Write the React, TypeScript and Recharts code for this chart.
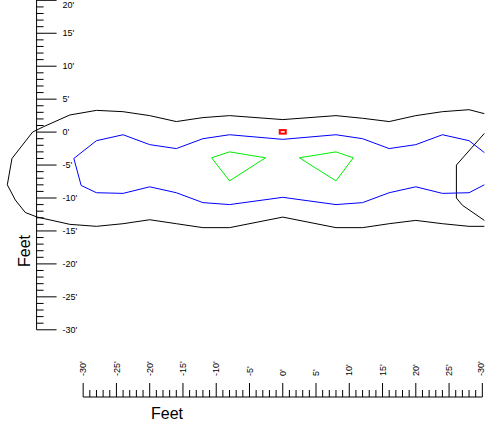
import { ComposedChart, Line, Scatter, XAxis, YAxis, ReferenceLine } from "recharts";

// contour traces, [feet across, feet up]
const OUTER_CONTOUR = [
  [30.3, 2.8], [28, 3.4], [24, 3.1], [20, 2.5], [16, 1.6], [12, 2.1], [8, 2.5], [0, 1.9],
  [-8, 2.5], [-12, 2.2], [-16, 1.6], [-20, 2.5], [-24, 3.1], [-28, 3.3], [-32, 2.6], [-36, 0.8],
  [-37.6, 0.0], [-40.7, -4.0], [-41.4, -8.0], [-40.2, -10.3], [-38.7, -12.2], [-36.9, -12.9],
  [-32, -14.0], [-28, -14.3], [-24, -13.9], [-20, -13.3], [-16, -13.9], [-12, -14.5], [-8, -14.5],
  [0, -12.9], [8, -14.5], [12, -14.5], [16, -13.9], [20, -13.4], [24, -13.9], [28, -14.3], [30.3, -14.3],
];
const RIGHT_CONTOUR = [[30.3, -0.2], [26.1, -5.0], [26.1, -10.0], [27, -11.1], [30.3, -13.4]];
const MID_CONTOUR = [
  [30.3, -3.1], [28, -1.3], [24, -0.4], [20, -1.9], [16, -2.5], [12, -1.0], [8, -0.4], [0, -1.1],
  [-8, -0.4], [-12, -1.0], [-16, -2.5], [-20, -1.9], [-24, -0.4], [-28, -1.3], [-31.4, -4.0],
  [-30.3, -8.1], [-28, -9.2], [-24, -9.3], [-20, -8.3], [-16, -9.2], [-12, -10.7], [-8, -11.0],
  [0, -9.9], [8, -11.0], [12, -10.7], [16, -9.2], [20, -8.3], [24, -9.3], [28, -9.2], [30.3, -8.0],
];
const INNER_LEFT = [[-10.7, -3.9], [-8, -3.0], [-2.6, -3.9], [-8, -7.4], [-10.7, -3.9]];
const INNER_RIGHT = [[2.5, -3.9], [8, -3.0], [10.6, -3.9], [8, -7.4], [2.5, -3.9]];
const ORIGIN = [[0, 0]];

const X_TICKS = Array.from({ length: 61 }, (_, i) => i - 30);
const Y_TICKS = Array.from({ length: 51 }, (_, i) => i - 30);
const X_TICK_LABELS: Record<number, string> = { 30: "-30'" };

const W = 485;
const H = 425;
const X_DOMAIN: [number, number] = [-42.5, 30.4];
const Y_DOMAIN: [number, number] = [-40.2, 20.2];
const Y_AXIS_AT = -37;
const Y_AXIS_PX = ((Y_AXIS_AT - X_DOMAIN[0]) / (X_DOMAIN[1] - X_DOMAIN[0])) * W;
const FONT = "'Liberation Sans', Arial, sans-serif";

const pts = (arr: number[][]) => arr.map(([x, y]) => ({ x, y }));

function YTick({ x, y, payload }: any) {
  const v = payload.value;
  const ax = x + Y_AXIS_PX;
  const major = v % 5 === 0;
  return (
    <g>
      <line x1={ax} x2={ax + (major ? 20 : 7)} y1={y} y2={y} stroke="#000" />
      {major && (
        <text x={ax + 26} y={Math.max(y, 5)} dy="0.35em" fontSize={9} fontFamily={FONT} fill="#000" textAnchor="start">
          {`${v}'`}
        </text>
      )}
    </g>
  );
}

function XTick({ x, y, payload }: any) {
  const v = payload.value;
  const major = v % 5 === 0;
  const ty = y - 21;
  const tx = Math.min(x, W - 4);
  return (
    <g>
      <line x1={x} x2={x} y1={y} y2={y - (major ? 14 : 7)} stroke="#000" />
      {major && (
        <text
          x={tx}
          y={ty}
          dy="0.35em"
          transform={`rotate(-90, ${tx}, ${ty})`}
          textAnchor="start"
          fontSize={9}
          fontFamily={FONT}
          fill="#000"
        >
          {X_TICK_LABELS[v] ?? `${v}'`}
        </text>
      )}
    </g>
  );
}

function OriginMark({ cx, cy }: any) {
  return <rect x={cx - 3} y={cy - 2} width={6} height={3.5} fill="#fff" stroke="#ff0000" strokeWidth={2} />;
}

const lineProps = { dataKey: "y", dot: false, activeDot: false, isAnimationActive: false, strokeWidth: 1, type: "linear" as const };

export default function App() {
  return (
    <div style={{ position: "fixed", left: 0, top: 0, width: W, height: H, background: "#fff" }}>
      <ComposedChart width={W} height={H} margin={{ top: -1, right: 0, bottom: 0, left: 0 }}>
        <XAxis
          type="number"
          dataKey="x"
          domain={X_DOMAIN}
          ticks={X_TICKS}
          interval={0}
          height={28}
          axisLine={false}
          tickLine={false}
          tickSize={0}
          tickMargin={0}
          tick={XTick}
        />
        <YAxis
          type="number"
          dataKey="y"
          domain={Y_DOMAIN}
          ticks={Y_TICKS}
          interval={0}
          width={40}
          mirror
          axisLine={false}
          tickLine={false}
          tickSize={0}
          tickMargin={0}
          tick={YTick}
        />
        <ReferenceLine
          segment={[{ x: Y_AXIS_AT, y: -30 }, { x: Y_AXIS_AT, y: Y_DOMAIN[1] }]}
          stroke="#000"
          ifOverflow="visible"
        />
        <ReferenceLine
          segment={[{ x: -30, y: Y_DOMAIN[0] }, { x: 30, y: Y_DOMAIN[0] }]}
          stroke="#000"
          ifOverflow="visible"
        />
        <Line {...lineProps} data={pts(OUTER_CONTOUR)} stroke="#000" />
        <Line {...lineProps} data={pts(RIGHT_CONTOUR)} stroke="#000" />
        <Line {...lineProps} data={pts(MID_CONTOUR)} stroke="#0000ff" />
        <Line {...lineProps} data={pts(INNER_LEFT)} stroke="#00ee00" />
        <Line {...lineProps} data={pts(INNER_RIGHT)} stroke="#00ee00" />
        <Scatter data={pts(ORIGIN)} shape={OriginMark} isAnimationActive={false} />
      </ComposedChart>
      <svg width={W} height={H} style={{ position: "absolute", left: 0, top: 0, pointerEvents: "none" }}>
        <text x={167} y={419} textAnchor="middle" fontSize={16} fontFamily={FONT} fill="#000">
          Feet
        </text>
        <text x={29.5} y={251} transform="rotate(-90, 29.5, 251)" textAnchor="middle" fontSize={16} fontFamily={FONT} fill="#000">
          Feet
        </text>
      </svg>
    </div>
  );
}
